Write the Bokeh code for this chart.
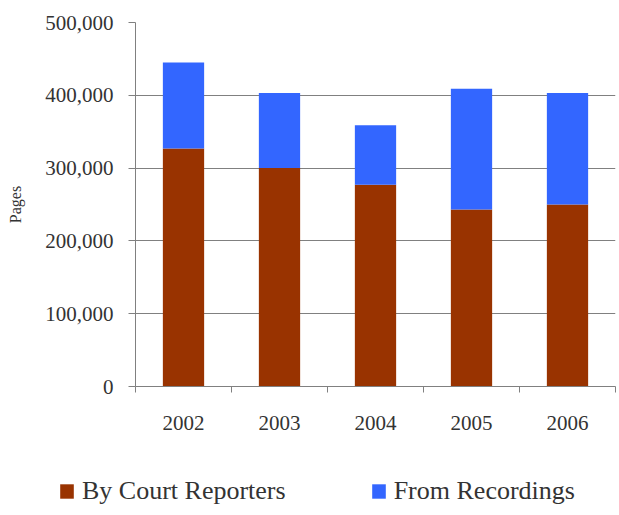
from bokeh.plotting import figure
from bokeh.layouts import column
from bokeh.models import (Range1d, FixedTicker, NumeralTickFormatter, Legend,
                          LegendItem, ColumnDataSource)
from bokeh.embed import file_html
from bokeh.resources import INLINE

years = ["2002", "2003", "2004", "2005", "2006"]
court_reporters = [327000, 300000, 277000, 243000, 250000]
from_recordings = [118000, 103000, 82000, 166000, 153000]
y_ticks = [0, 100000, 200000, 300000, 400000, 500000]
series_names = ["By Court Reporters", "From Recordings"]
series_colors = ["#993300", "#3366FF"]

FONT = "Liberation Serif"
GRID = "#808080"
TEXT = "#333333"

x = list(range(1, len(years) + 1))
src = ColumnDataSource(dict(x=x, court=court_reporters, rec=from_recordings))

p = figure(width=619, height=460, output_backend="svg", toolbar_location=None,
           x_range=Range1d(0.5, len(years) + 0.5), y_range=Range1d(0, y_ticks[-1]),
           min_border_left=135, min_border_right=4, min_border_top=22,
           min_border_bottom=74)
p.background_fill_color = "white"
p.border_fill_color = "white"
p.outline_line_color = None

rs = p.vbar_stack(["court", "rec"], x="x", width=0.43, fill_color=series_colors,
                  line_color=None, source=src)

# y axis
p.yaxis.ticker = FixedTicker(ticks=y_ticks)
p.yaxis.formatter = NumeralTickFormatter(format="0,0")
p.yaxis.major_tick_out = 7
p.yaxis.major_tick_in = 0
p.yaxis.minor_tick_out = 0
p.yaxis.minor_tick_in = 0
p.yaxis.axis_line_color = GRID
p.yaxis.major_tick_line_color = GRID
p.yaxis.major_label_text_font = FONT
p.yaxis.major_label_text_font_size = "21px"
p.yaxis.major_label_text_color = TEXT
p.yaxis.major_label_standoff = 15
p.yaxis.axis_label = "Pages"
p.yaxis.axis_label_text_font = FONT
p.yaxis.axis_label_text_font_size = "16px"
p.yaxis.axis_label_text_font_style = "normal"
p.yaxis.axis_label_text_color = TEXT
p.yaxis.axis_label_standoff = 18

# x axis
p.xaxis.ticker = FixedTicker(ticks=x, minor_ticks=[i + 0.5 for i in range(len(years) + 1)])
p.xaxis.major_label_overrides = {i + 1: yr for i, yr in enumerate(years)}
p.xaxis.major_tick_out = 0
p.xaxis.major_tick_in = 0
p.xaxis.minor_tick_out = 6
p.xaxis.minor_tick_in = 0
p.xaxis.minor_tick_line_color = GRID
p.xaxis.axis_line_color = GRID
p.xaxis.major_label_text_font = FONT
p.xaxis.major_label_text_font_size = "21px"
p.xaxis.major_label_text_color = TEXT
p.xaxis.major_label_standoff = 23

p.xgrid.visible = False
p.ygrid.grid_line_color = GRID

# legend strip below the chart (its swatch glyphs reuse the data, kept out of view)
q = figure(width=619, height=55, output_backend="svg", toolbar_location=None,
           x_range=Range1d(-2, -1), y_range=Range1d(-2, -1),
           x_axis_location=None, y_axis_location=None,
           min_border=0, min_border_left=0, min_border_right=0,
           min_border_top=0, min_border_bottom=0)
q.grid.visible = False
q.outline_line_color = None
q.background_fill_color = "white"
q.border_fill_color = "white"
swatches = [q.vbar(x="x", top=col, width=0.43, fill_color=c, line_color=None, source=src)
            for col, c in zip(["court", "rec"], series_colors)]

legend = Legend(items=[LegendItem(label=n, renderers=[r]) for n, r in zip(series_names, swatches)],
                location=(58, 9), orientation="horizontal", spacing=84,
                glyph_width=17, glyph_height=18, label_standoff=7,
                label_text_font=FONT, label_text_font_size="26px",
                label_text_color=TEXT, padding=0, margin=0,
                border_line_color=None, background_fill_alpha=0)
q.add_layout(legend)

layout = column(column(p), column(q), spacing=0)
open("out.html", "w").write(file_html(layout, INLINE))
